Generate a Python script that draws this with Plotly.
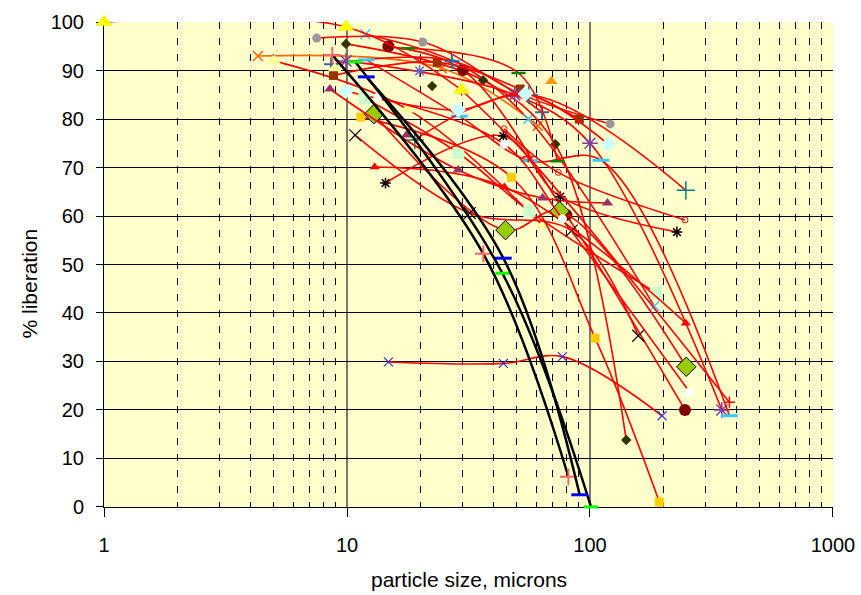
import plotly.graph_objects as go

# ---------------- data (particle size in microns, % liberation) ----------------
yellow_tri_x = [1, 9.9, 29.6]
yellow_tri_y = [100, 99, 86]
orange_x_x = [4.3, 24.5, 61]
orange_x_y = [93, 90.5, 78.6]
pale_tri_x = [5, 17.8, 64]
pale_tri_y = [92, 82, 58]
cyan_x_x = [11.9, 28.5, 55.7, 184]
cyan_x_y = [97.5, 91.5, 80, 41.4]
gray_circ_x = [7.5, 20.5, 51, 121]
gray_circ_y = [96.7, 95.9, 85.3, 79]
olive_dia_x = [9.9, 36.3, 72, 141]
olive_dia_y = [95.5, 88, 74.8, 13.8]
maroon_circ_x = [14.8, 30, 80, 246]
maroon_circ_y = [95, 90.1, 60.2, 20]
brown_sq_x = [8.8, 23.5, 51.6, 90.4]
brown_sq_y = [89, 91.7, 86.2, 80]
navy_plus_x = [8.6, 27, 63.5]
navy_plus_y = [91.3, 92, 81.4]
purple_star_x = [9.9, 49, 100, 349]
purple_star_y = [92, 85, 75, 20]
cyan_dash_x = [12, 29, 56.3, 111, 375]
cyan_dash_y = [92.2, 80.6, 71.4, 71.5, 18.8]
green_dash_x = [17.8, 50.8, 73.5]
green_dash_y = [94.6, 89.5, 71.3]
teal_plus_x = [19, 56, 248]
teal_plus_y = [75.7, 85, 65.3]
ltcyan_dia_x = [9.9, 28.7, 54.2, 119]
ltcyan_dia_y = [85.8, 81.9, 85.2, 74.8]
ltgreen_sq_x = [11.8, 28.7, 56.3, 187]
ltgreen_sq_y = [84.3, 73, 61, 44.2]
gold_sq_x = [11.4, 47.5, 105, 193]
gold_sq_y = [80.4, 68, 34.8, 1]
yg_dia_x = [12.9, 44.9, 75, 249]
yg_dia_y = [81, 57.1, 61, 28.9]
plum_tri_x = [8.5, 28.7, 63.8, 118]
plum_tri_y = [86.2, 69.5, 63.7, 62.7]
red_tri_x = [13, 44.4, 248]
red_tri_y = [70.1, 66, 37.9]
black_star_x = [14.4, 44, 75.5, 228]
black_star_y = [66.8, 76.5, 64, 56.7]
black_x_x = [10.8, 32, 84, 158]
black_x_y = [76.7, 60.6, 57, 35.3]
red_ocirc_x = [44.3, 74, 246]
red_ocirc_y = [78, 69, 59.2]
white_circ_x = [13.4, 44.4, 77, 257]
white_circ_y = [84.5, 74.8, 59.4, 23.7]
slate_x_x = [14.8, 44, 77, 198]
slate_x_y = [29.9, 29.6, 31, 18.8]
red_plus_x = [29.6, 55.7, 375]
red_plus_y = [86, 72.2, 21.6]
orange_tri_x = [69.3]
orange_tri_y = [87.8]
slate_star_x = [19.9]
slate_star_y = [89.9]
olive_dia2_x = [22.4]
olive_dia2_y = [86.8]
plum_tri2_x = [17.6]
plum_tri2_y = [76.7]
pale_tri2_x = [8.9]
pale_tri2_y = [90.5]

# model curves (black)
model_a_x = [8.7, 36.4, 81.5]
model_a_y = [93.2, 52.2, 6.2]
model_b_x = [10.8, 43.6, 101]
model_b_y = [91.8, 48.2, 0]
model_c_x = [12, 44, 90.7]
model_c_y = [88.7, 51.3, 2.5]

x_tick_vals = [1, 10, 100, 1000]
x_tick_text = ["1", "10", "100", "1000"]
y_tick_vals = [0, 10, 20, 30, 40, 50, 60, 70, 80, 90, 100]

# ---------------- styles ----------------
RED = "#FF0000"
series = [
    (orange_x_x, orange_x_y, dict(symbol="x-thin", size=10, line=dict(color="#FF6600", width=1.5)), "#FF6600"),
    (pale_tri_x, pale_tri_y, dict(symbol="triangle-up", color="#FFFF99", size=13), RED),
    (cyan_x_x, cyan_x_y, dict(symbol="x-thin", size=10, line=dict(color="#33CCFF", width=1.5)), RED),
    (gray_circ_x, gray_circ_y, dict(symbol="circle", color="#999999", size=9), RED),
    (olive_dia_x, olive_dia_y, dict(symbol="diamond", color="#333300", size=8), RED),
    (maroon_circ_x, maroon_circ_y, dict(symbol="circle", color="#800000", size=12), RED),
    (brown_sq_x, brown_sq_y, dict(symbol="square", color="#993300", size=9), RED),
    (navy_plus_x, navy_plus_y, dict(symbol="cross-thin", size=10, line=dict(color="#336699", width=2)), RED),
    (purple_star_x, purple_star_y, dict(symbol="asterisk", size=13, line=dict(color="#7F3F9F", width=1.5)), RED),
    (cyan_dash_x, cyan_dash_y, dict(symbol="line-ew", size=12, line=dict(color="#33CCFF", width=3)), RED),
    (green_dash_x, green_dash_y, dict(symbol="line-ew", size=10, line=dict(color="#008000", width=2.5)), RED),
    (teal_plus_x, teal_plus_y, dict(symbol="cross-thin", size=13, line=dict(color="#008080", width=1.5)), RED),
    (ltcyan_dia_x, ltcyan_dia_y, dict(symbol="diamond", color="#CCFFFF", size=12), RED),
    (ltgreen_sq_x, ltgreen_sq_y, dict(symbol="square", color="#CCFFCC", size=12), RED),
    (gold_sq_x, gold_sq_y, dict(symbol="square", color="#FFCC00", size=9), RED),
    (yg_dia_x, yg_dia_y, dict(symbol="diamond", color="#99CC00", size=15, line=dict(color="#000000", width=1)), RED),
    (plum_tri_x, plum_tri_y, dict(symbol="triangle-up", color="#993366", size=10), RED),
    (red_tri_x, red_tri_y, dict(symbol="triangle-up", color="#FF0000", size=9), RED),
    (black_star_x, black_star_y, dict(symbol="asterisk", size=9, line=dict(color="#000000", width=1.5)), RED),
    (black_x_x, black_x_y, dict(symbol="x-thin", size=12, line=dict(color="#000000", width=1.2)), RED),
    (red_ocirc_x, red_ocirc_y, dict(symbol="circle-open", color="#FF0000", size=6, line=dict(width=1)), RED),
    (white_circ_x, white_circ_y, dict(symbol="circle", color="#FFFFFF", size=9), RED),
    (slate_x_x, slate_x_y, dict(symbol="x-thin", size=9, line=dict(color="#3333CC", width=1.2)), RED),
    (red_plus_x, red_plus_y, dict(symbol="cross-thin", size=8, line=dict(color="#FF0000", width=1.5)), RED),
    (orange_tri_x, orange_tri_y, dict(symbol="triangle-up", color="#FF9900", size=11), RED),
    (slate_star_x, slate_star_y, dict(symbol="asterisk", size=10, line=dict(color="#6666CC", width=1.5)), RED),
    (olive_dia2_x, olive_dia2_y, dict(symbol="diamond", color="#333300", size=8), RED),
    (plum_tri2_x, plum_tri2_y, dict(symbol="triangle-up", color="#993366", size=10), RED),
    (pale_tri2_x, pale_tri2_y, dict(symbol="triangle-up", color="#FFFF99", size=12), RED),
    (yellow_tri_x, yellow_tri_y, dict(symbol="triangle-up", color="#FFFF00", size=14,
                                      line=dict(color="#E6E600", width=0.5)), RED),
]

models = [
    (model_a_x, model_a_y, dict(symbol="cross-thin", size=12, line=dict(color="#FF6666", width=2))),
    (model_b_x, model_b_y, dict(symbol="line-ew", size=10, line=dict(color="#00FF00", width=3))),
    (model_c_x, model_c_y, dict(symbol="line-ew", size=12, line=dict(color="#0000FF", width=3))),
]

fig = go.Figure()
for xs, ys, mk, lc in series:
    fig.add_trace(go.Scatter(
        x=xs, y=ys, mode="lines+markers",
        line=dict(color=lc, width=1.6, shape="spline", smoothing=1),
        marker=mk, cliponaxis=False, showlegend=False, hoverinfo="skip",
    ))
for xs, ys, mk in models:
    fig.add_trace(go.Scatter(
        x=xs, y=ys, mode="lines+markers",
        line=dict(color="#000000", width=2.5, shape="spline", smoothing=1),
        marker=mk, cliponaxis=False, showlegend=False, hoverinfo="skip",
    ))

minor_vals = [k * 10 ** d for d in range(3) for k in range(2, 10)]

FONT = "Liberation Sans, Arial, sans-serif"
fig.update_layout(
    width=861, height=595,
    margin=dict(l=104, r=28, t=22, b=88, autoexpand=False),
    paper_bgcolor="#FFFFFF",
    plot_bgcolor="#FFFFCC",
    font=dict(family=FONT, size=20, color="#000000"),
    showlegend=False,
    xaxis=dict(
        type="log", range=[-0.0002, 3.0002], automargin=False,
        layer="below traces",
        tickvals=x_tick_vals, ticktext=x_tick_text,
        showgrid=True, gridcolor="#777777", gridwidth=1.5,
        showline=True, linecolor="#000000", linewidth=1,
        ticks="outside", ticklen=9, tickcolor="#000000",
        ticklabelstandoff=11,
        minor=dict(tickvals=minor_vals, showgrid=True, gridcolor="#000000",
                   gridwidth=1, griddash="7px,9px", ticks=""),
        zeroline=False,
    ),
    yaxis=dict(
        range=[-0.02, 100.02], automargin=False,
        layer="below traces",
        tickvals=y_tick_vals,
        showgrid=True, gridcolor="#000000", gridwidth=1,
        showline=True, linecolor="#000000", linewidth=1,
        ticks="outside", ticklen=7, tickcolor="#000000",
        ticklabelstandoff=8,
        zeroline=False,
    ),
    annotations=[
        dict(text="particle size, microns", xref="paper", yref="paper",
             x=0.5, y=-0.15, xanchor="center", yanchor="middle",
             showarrow=False, font=dict(size=21)),
        dict(text="% liberation", xref="paper", yref="paper",
             x=-0.102, y=0.46, xanchor="center", yanchor="middle",
             textangle=-90, showarrow=False, font=dict(size=21)),
    ],
)

fig.write_html("out.html")
